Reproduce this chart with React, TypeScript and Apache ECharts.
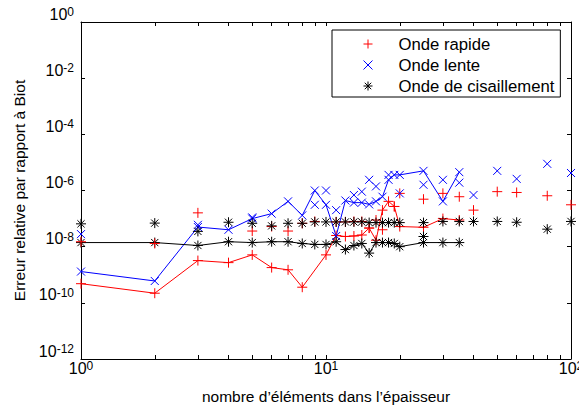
import React, { useEffect, useRef } from "react";
import * as echarts from "echarts";

// ---- Data ----
const rapideLineX = [1, 2, 3, 4, 5, 6, 7, 8, 10, 11, 12, 13, 14, 15, 16, 17, 18, 19, 20, 25, 30, 35];
const rapideLineY = [4.8e-10, 2.2e-10, 3.2e-9, 2.7e-9, 5.1e-9, 1.8e-9, 1.5e-9, 3.6e-10, 5.1e-9, 2.5e-8, 2.3e-8, 2.4e-8, 2.6e-8, 4.6e-8, 1.7e-8, 2.0e-7, 4.1e-7, 2.7e-7, 5.2e-8, 4.9e-8, 1.0e-7, 8.9e-8];
const rapidePtsX = [1, 2, 3, 5, 6, 7, 8, 9, 11, 12, 13, 14, 15, 16, 17, 19, 20, 25, 30, 35, 40, 50, 60, 80, 100];
const rapidePtsY = [1.5e-8, 1.3e-8, 1.6e-7, 3.6e-8, 5.2e-8, 3.6e-8, 6.8e-8, 7.9e-8, 7.6e-8, 7.6e-8, 7.9e-8, 7.9e-8, 4.6e-8, 8.9e-8, 4.0e-8, 2.7e-7, 7.9e-7, 4.9e-7, 7.9e-7, 6.0e-7, 2.0e-7, 9.1e-7, 8.5e-7, 6.5e-7, 3.1e-7];

const lenteLineX = [1, 2, 3, 4, 5, 6, 7, 8, 9, 10, 11, 12, 13, 14, 15, 16, 17, 18, 19, 20, 25, 30, 35];
const lenteLineY = [1.3e-9, 6.0e-10, 5.0e-8, 4.0e-8, 1.0e-7, 1.5e-7, 4.1e-7, 1.3e-7, 1.0e-6, 3.1e-7, 2.4e-8, 4.4e-7, 3.7e-7, 3.7e-7, 3.2e-7, 4.1e-7, 6.0e-7, 2.4e-6, 3.6e-6, 3.6e-6, 5.0e-6, 4.1e-7, 4.5e-6];
const lentePtsX = [1, 3, 5, 9, 10, 11, 13, 14, 15, 16, 18, 20, 25, 30, 35, 40, 50, 60, 80, 100];
const lentePtsY = [2.8e-8, 6.0e-8, 1.1e-7, 3.1e-7, 1.0e-6, 2.0e-7, 6.9e-7, 9.1e-7, 2.4e-6, 1.4e-6, 3.6e-6, 7.9e-7, 1.6e-6, 2.4e-6, 1.9e-6, 6.9e-7, 5.0e-6, 2.6e-6, 8.9e-6, 4.2e-6];

const cisLineX = [1, 2, 3, 4, 5, 6, 7, 8, 9, 10, 11, 12, 13, 14, 15, 16, 17, 18, 19, 20, 25, 30, 35];
const cisLineY = [1.4e-8, 1.4e-8, 1.1e-8, 1.5e-8, 1.4e-8, 1.5e-8, 1.5e-8, 1.3e-8, 1.2e-8, 1.2e-8, 1.5e-8, 7.9e-9, 1.1e-8, 1.3e-8, 5.9e-9, 1.4e-8, 1.4e-8, 1.4e-8, 1.3e-8, 1.0e-8, 1.4e-8, 1.4e-8, 1.4e-8];
const cisPtsX = [1, 2, 3, 4, 5, 6, 7, 8, 9, 10, 11, 12, 13, 14, 15, 16, 17, 18, 19, 20, 25, 25, 30, 35, 40, 50, 60, 80, 100];
const cisPtsY = [6.5e-8, 6.9e-8, 3.5e-8, 7.4e-8, 6.8e-8, 5.5e-8, 6.8e-8, 6.8e-8, 7.6e-8, 7.6e-8, 7.6e-8, 7.6e-8, 7.6e-8, 7.6e-8, 7.2e-8, 7.2e-8, 7.2e-8, 7.2e-8, 7.2e-8, 7.2e-8, 7.2e-8, 2.3e-8, 7.9e-8, 7.9e-8, 7.9e-8, 7.9e-8, 7.4e-8, 4.2e-8, 7.9e-8];

const seriesNames = ["Onde rapide", "Onde lente", "Onde de cisaillement"];
const xTickValues = [1, 2, 3, 4, 5, 6, 7, 8, 9, 10, 20, 30, 40, 50, 60, 70, 80, 90, 100];
const xTitle = "nombre d’éléments dans l’épaisseur";
const yTitle = "Erreur relative par rapport à Biot";

const FONT = "Liberation Sans";
const PLUS = "path://M-5,0L5,0M0,-5L0,5";
const CROSS = "path://M-4,-4L4,4M-4,4L4,-4";
const STAR = "path://M-5,0L5,0M0,-5L0,5M-3.6,-3.6L3.6,3.6M-3.6,3.6L3.6,-3.6";

const zip = (xs: number[], ys: number[]) => xs.map((x, i) => [x, ys[i]]);

const expLabel = (v: number) => {
  const e = Math.round(Math.log10(v));
  return `{b|10}{s|${e}}`;
};

export default function App() {
  const ref = useRef<HTMLDivElement>(null);
  useEffect(() => {
    if (!ref.current) return;
    const chart = echarts.init(ref.current, null, { renderer: "svg" });
    const rich = (padTop: number) => ({
      b: { fontFamily: FONT, fontSize: 16, lineHeight: 16, color: "#000", verticalAlign: "bottom", padding: [padTop, 0, 0, 0] },
      s: { fontFamily: FONT, fontSize: 12, lineHeight: 12, color: "#000", verticalAlign: "top" },
    });
    const axisLine = { show: true, onZero: false, lineStyle: { color: "#000", width: 1 } };
    const mk = (name: string, color: string, symbol: string, size: number, data: number[][], line: boolean) => ({
      name,
      type: line ? "line" : "scatter",
      data,
      symbol,
      symbolSize: size,
      showSymbol: true,
      clip: false,
      itemStyle: { color, borderColor: color, borderWidth: 1, opacity: 1 },
      lineStyle: { color, width: 1 },
      emphasis: { disabled: true },
      z: line ? 2 : 3,
    });
    const colors = ["#ff0000", "#0000ff", "#000000"];
    const icons = [PLUS, CROSS, STAR];
    chart.setOption({
      animation: false,
      grid: { left: 81, right: 8, top: 22, bottom: 53, show: false, containLabel: false, outerBoundsMode: "none" },
      legend: {
        orient: "vertical",
        left: 332,
        top: 30,
        padding: [4, 6, 1, 31],
        itemWidth: 9,
        itemHeight: 9,
        itemGap: 1,
        borderColor: "#000",
        borderWidth: 1,
        backgroundColor: "#fff",
        selectedMode: false,
        textStyle: { fontFamily: FONT, fontSize: 16.7, color: "#000", lineHeight: 20, padding: [0, 0, 0, 21] },
        data: seriesNames.map((n, i) => ({
          name: n,
          icon: icons[i],
          itemStyle: { color: colors[i], borderColor: colors[i], borderWidth: 1 },
        })),
      },
      xAxis: [
        {
          type: "log",
          logBase: 10,
          min: 1,
          max: 100,
          interval: 1,
          position: "bottom",
          axisLine,
          axisTick: { show: true, inside: true, length: 4, lineStyle: { color: "#000" }, customValues: xTickValues },
          axisLabel: { formatter: expLabel, rich: rich(5), margin: 1, verticalAlign: "top" },
          splitLine: { show: false },
          minorTick: { show: false },
          name: xTitle,
          nameLocation: "middle",
          nameGap: 29,
          nameTextStyle: { fontFamily: FONT, fontSize: 15.5, color: "#000" },
        },
        {
          type: "log",
          logBase: 10,
          min: 1,
          max: 100,
          interval: 1,
          position: "top",
          axisLine,
          axisTick: { show: true, inside: true, length: 4, lineStyle: { color: "#000" }, customValues: xTickValues },
          axisLabel: { show: false },
          splitLine: { show: false },
        },
      ],
      yAxis: [
        {
          type: "log",
          logBase: 10,
          min: 1e-12,
          max: 1,
          interval: 2,
          position: "left",
          axisLine,
          axisTick: { show: true, inside: true, length: 4, lineStyle: { color: "#000" } },
          axisLabel: { formatter: expLabel, rich: rich(8), margin: 7, verticalAlign: "bottom" },
          splitLine: { show: false },
          name: yTitle,
          nameLocation: "middle",
          nameGap: 51,
          nameTextStyle: { fontFamily: FONT, fontSize: 15.5, color: "#000" },
        },
        {
          type: "log",
          logBase: 10,
          min: 1e-12,
          max: 1,
          interval: 2,
          position: "right",
          axisLine,
          axisTick: { show: true, inside: true, length: 4, lineStyle: { color: "#000" } },
          axisLabel: { show: false },
          splitLine: { show: false },
        },
      ],
      series: [
        mk("rapide-ligne", colors[0], PLUS, 10, zip(rapideLineX, rapideLineY), true),
        mk("lente-ligne", colors[1], CROSS, 8, zip(lenteLineX, lenteLineY), true),
        mk("cis-ligne", colors[2], STAR, 10, zip(cisLineX, cisLineY), true),
        mk(seriesNames[0], colors[0], PLUS, 10, zip(rapidePtsX, rapidePtsY), false),
        mk(seriesNames[1], colors[1], CROSS, 8, zip(lentePtsX, lentePtsY), false),
        mk(seriesNames[2], colors[2], STAR, 10, zip(cisPtsX, cisPtsY), false),
      ],
    });
    return () => chart.dispose();
  }, []);
  return <div ref={ref} style={{ width: 579, height: 412, position: "absolute", left: 0, top: 0, background: "#fff" }} />;
}
